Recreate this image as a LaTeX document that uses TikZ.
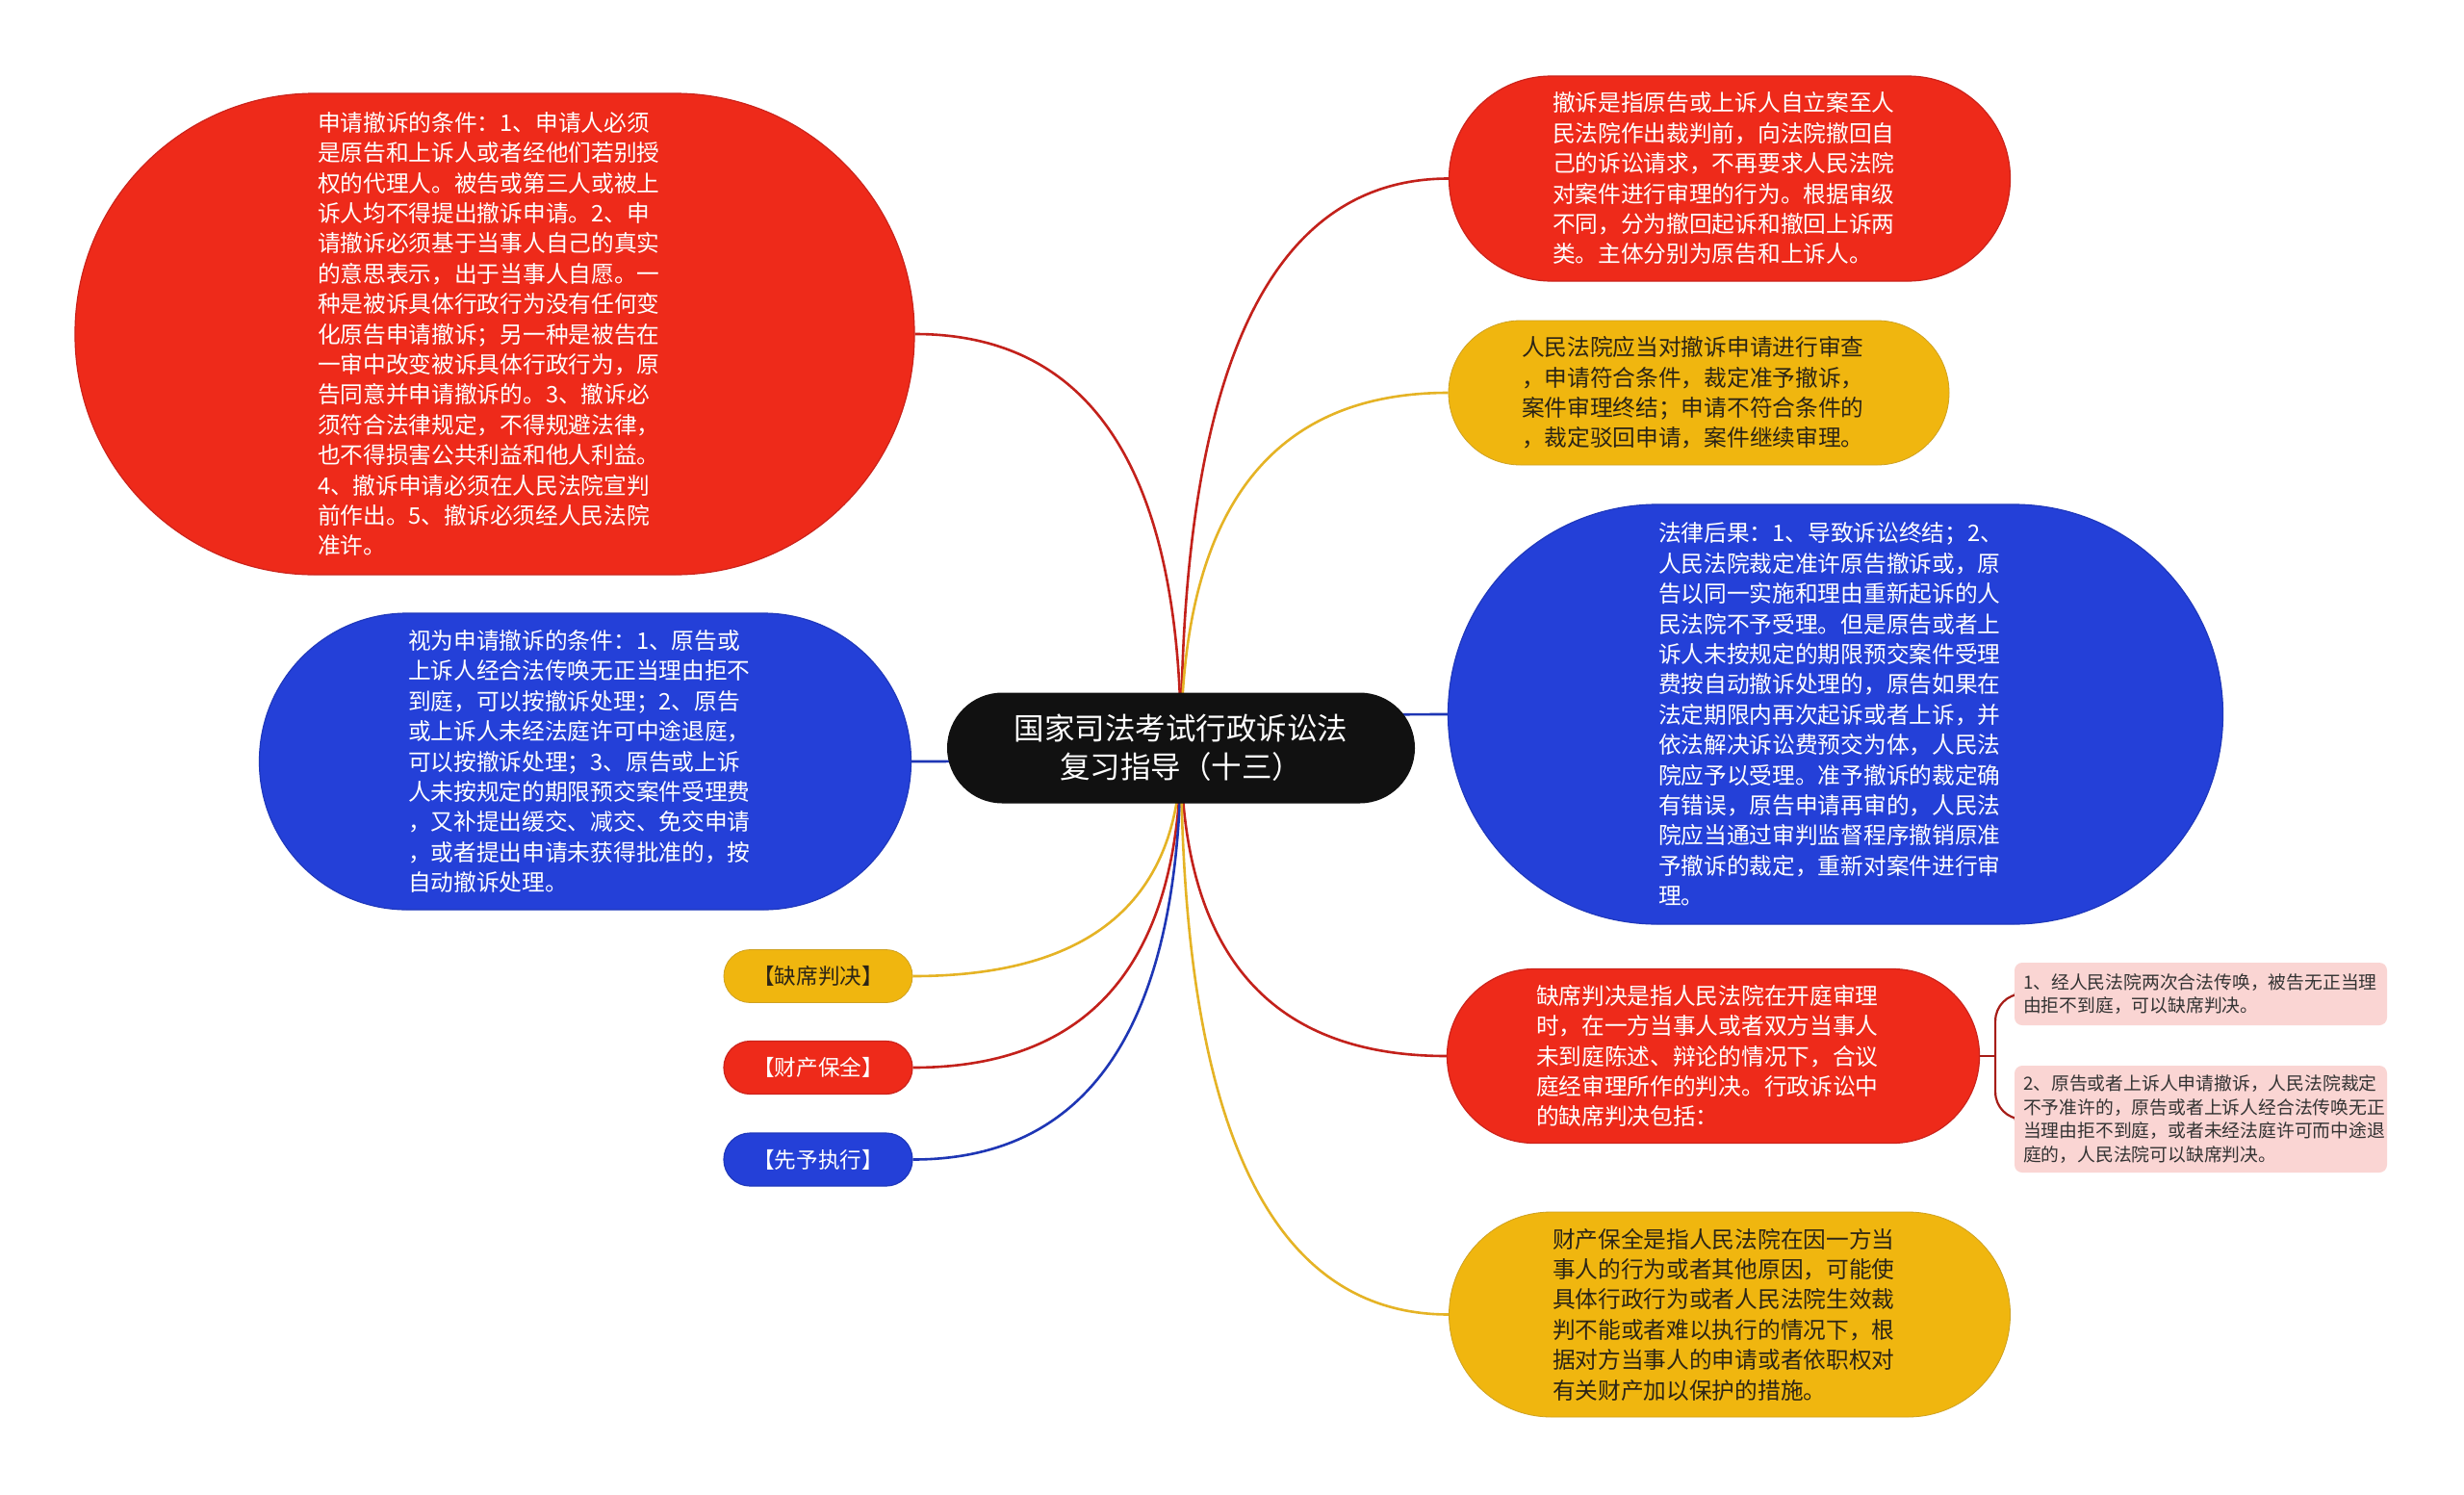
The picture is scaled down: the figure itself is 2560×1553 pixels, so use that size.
\documentclass[tikz,border=0pt]{standalone}
\usepackage{fontspec}
\newfontfamily\cjk{Noto Sans CJK SC}
\usetikzlibrary{calc,backgrounds}
\definecolor{redfill}{HTML}{EE2A1A}
\definecolor{redline}{HTML}{C3211B}
\definecolor{bluefill}{HTML}{2440D8}
\definecolor{blueline}{HTML}{1E36B5}
\definecolor{yelfill}{HTML}{F0B60F}
\definecolor{yelline}{HTML}{E5B325}
\definecolor{pinkfill}{HTML}{FAD5D3}
\definecolor{darktext}{HTML}{2B2416}
\definecolor{rootfill}{HTML}{111111}
\newcommand\mmconn[3]{\draw[#1] (root.center) .. controls ($(root.center)!0.6667!(root.center |- #2.#3)$) and ($(#2.#3)!0.6667!(root.center |- #2.#3)$) .. (#2.#3);}
\begin{document}
\begin{tikzpicture}[x=0.5pt,y=-0.5pt,
  pill/.style={rectangle, inner sep=0pt, rounded corners=#1},
  bigtext/.style={text width=184pt, align=left, font=\cjk\fontsize{11.85pt}{15.7pt}\selectfont},
  redbox/.style={fill=redfill, draw=redline!80!redfill, line width=0.6pt, text=white},
  bluebox/.style={fill=bluefill, draw=blueline!80!bluefill, line width=0.6pt, text=white},
  yelbox/.style={fill=yelfill, draw=yelline!90!black, line width=0.4pt, text=darktext},
  smallbox/.style={pill=13.7pt, minimum width=98pt, minimum height=27.5pt, font=\cjk\fontsize{11.3pt}{13pt}\selectfont},
  pinkbox/.style={rectangle, rounded corners=4pt, inner sep=0pt, fill=pinkfill, text=black!80, text width=184.5pt, align=left, minimum width=193.5pt, font=\cjk\fontsize{9.4pt}{12.2pt}\selectfont},
  rl/.style={draw=redline, line width=1.3pt},
  bl/.style={draw=blueline, line width=1.3pt},
  yl/.style={draw=yelline, line width=1.3pt},
  sub/.style={draw=redline!85!black, line width=1.1pt}]
\useasboundingbox (0,0) rectangle (2560,1553);

\node[pill=28.7pt, fill=rootfill, text=white, minimum width=243pt, minimum height=57.5pt, align=center,
  font=\cjk\fontsize{15.75pt}{20pt}\selectfont] (root) at (1227,777) {国家司法考试行政诉讼法\\复习指导（十三）};

\node[pill=124.5pt, redbox, bigtext, minimum width=436pt, minimum height=250pt] (n1) at (514,347) {申请撤诉的条件：1、申请人必须\\是原告和上诉人或者经他们若别授\\权的代理人。被告或第三人或被上\\诉人均不得提出撤诉申请。2、申\\请撤诉必须基于当事人自己的真实\\的意思表示，出于当事人自愿。一\\种是被诉具体行政行为没有任何变\\化原告申请撤诉；另一种是被告在\\一审中改变被诉具体行政行为，原\\告同意并申请撤诉的。3、撤诉必\\须符合法律规定，不得规避法律，\\也不得损害公共利益和他人利益。\\4、撤诉申请必须在人民法院宣判\\前作出。5、撤诉必须经人民法院\\准许。};

\node[pill=76.8pt, bluebox, bigtext, minimum width=338.5pt, minimum height=154pt] (n2) at (608,791) {视为申请撤诉的条件：1、原告或\\上诉人经合法传唤无正当理由拒不\\到庭，可以按撤诉处理；2、原告\\或上诉人未经法庭许可中途退庭，\\可以按撤诉处理；3、原告或上诉\\人未按规定的期限预交案件受理费\\，又补提出缓交、减交、免交申请\\，或者提出申请未获得批准的，按\\自动撤诉处理。};

\node[smallbox, yelbox] (s1) at (850,1014) {【缺席判决】};
\node[smallbox, redbox] (s2) at (850,1109) {【财产保全】};
\node[smallbox, bluebox] (s3) at (850,1204.5) {【先予执行】};

\node[pill=53.1pt, redbox, bigtext, minimum width=291.5pt, minimum height=106.5pt] (n3) at (1797,185.5) {撤诉是指原告或上诉人自立案至人\\民法院作出裁判前，向法院撤回自\\己的诉讼请求，不再要求人民法院\\对案件进行审理的行为。根据审级\\不同，分为撤回起诉和撤回上诉两\\类。主体分别为原告和上诉人。};

\node[pill=37.4pt, yelbox, bigtext, minimum width=260pt, minimum height=75pt] (n4) at (1765,408) {人民法院应当对撤诉申请进行审查\\，申请符合条件，裁定准予撤诉，\\案件审理终结；申请不符合条件的\\，裁定驳回申请，案件继续审理。};

\node[pill=108.8pt, bluebox, bigtext, minimum width=402.5pt, minimum height=218pt] (n5) at (1907,742) {法律后果：1、导致诉讼终结；2、\\人民法院裁定准许原告撤诉或，原\\告以同一实施和理由重新起诉的人\\民法院不予受理。但是原告或者上\\诉人未按规定的期限预交案件受理\\费按自动撤诉处理的，原告如果在\\法定期限内再次起诉或者上诉，并\\依法解决诉讼费预交为体，人民法\\院应予以受理。准予撤诉的裁定确\\有错误，原告申请再审的，人民法\\院应当通过审判监督程序撤销原准\\予撤诉的裁定，重新对案件进行审\\理。};

\node[pill=45.1pt, redbox, bigtext, minimum width=276.5pt, minimum height=90.5pt] (n6) at (1780,1097) {缺席判决是指人民法院在开庭审理\\时，在一方当事人或者双方当事人\\未到庭陈述、辩论的情况下，合议\\庭经审理所作的判决。行政诉讼中\\的缺席判决包括：};

\node[pill=53.1pt, yelbox, bigtext, minimum width=291.5pt, minimum height=106.5pt] (n7) at (1797,1365.5) {财产保全是指人民法院在因一方当\\事人的行为或者其他原因，可能使\\具体行政行为或者人民法院生效裁\\判不能或者难以执行的情况下，根\\据对方当事人的申请或者依职权对\\有关财产加以保护的措施。};

\node[pinkbox, minimum height=32.5pt] (pa) at (2286.5,1032.5) {1、经人民法院两次合法传唤，被告无正当理\\由拒不到庭，可以缺席判决。};
\node[pinkbox, minimum height=55.5pt] (pb) at (2286.5,1162.5) {2、原告或者上诉人申请撤诉，人民法院裁定\\不予准许的，原告或者上诉人经合法传唤无正\\当理由拒不到庭，或者未经法庭许可而中途退\\庭的，人民法院可以缺席判决。};

\coordinate (jn) at ($(n6.east)+(16,0)$);

\begin{scope}[on background layer]
\fill[white] (0,0) rectangle (2560,1553);
\mmconn{rl}{n1}{east}
\mmconn{bl}{n2}{east}
\mmconn{yl}{s1}{east}
\mmconn{rl}{s2}{east}
\mmconn{bl}{s3}{east}
\mmconn{rl}{n3}{west}
\mmconn{yl}{n4}{west}
\mmconn{bl}{n5}{west}
\mmconn{rl}{n6}{west}
\mmconn{yl}{n7}{west}
\draw[sub] (n6.east) -- (jn);
\draw[sub, rounded corners=14pt] (jn) |- (pa.west);
\draw[sub, rounded corners=14pt] (jn) |- (pb.west);
\end{scope}
\end{tikzpicture}
\end{document}
